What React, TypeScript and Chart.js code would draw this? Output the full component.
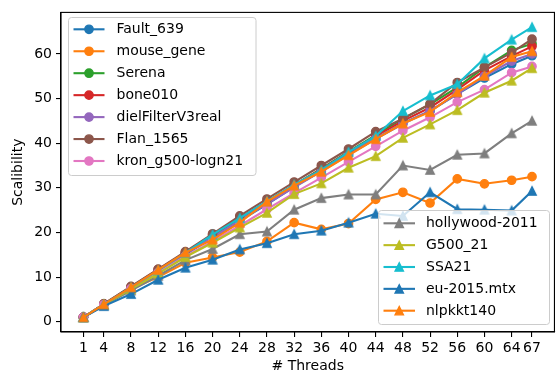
import React, { useEffect, useRef } from 'react';
import { Chart, registerables } from 'chart.js';

Chart.register(...registerables);

const threads = [1, 4, 8, 12, 16, 20, 24, 28, 32, 36, 40, 44, 48, 52, 56, 60, 64, 67];
const xTickValues = [1, 4, 8, 12, 16, 20, 24, 28, 32, 36, 40, 44, 48, 52, 56, 60, 64, 67];
const yTickValues = [0, 10, 20, 30, 40, 50, 60];

const fault639 = [1, 3.9, 7.6, 11.4, 15.1, 18.8, 22.6, 26.3, 30.2, 33.8, 37.6, 41.0, 44.5, 47.2, 51.0, 54.6, 57.7, 59.6];
const mouseGene = [1, 3.8, 7.3, 10.0, 13.2, 14.4, 15.6, 18.0, 22.2, 20.7, 22.0, 27.4, 29.0, 26.6, 32.0, 30.9, 31.7, 32.5];
const serena = [1, 3.9, 7.7, 11.5, 15.3, 19.2, 23.0, 26.8, 30.6, 34.3, 38.1, 41.8, 45.5, 48.7, 52.5, 57.0, 60.8, 62.3];
const bone010 = [1, 4.0, 7.8, 11.7, 15.5, 19.5, 23.2, 26.9, 30.6, 34.2, 38.0, 41.6, 45.0, 48.0, 52.0, 56.3, 59.5, 61.7];
const dielFilter = [1, 3.9, 7.6, 11.4, 15.2, 18.9, 22.7, 26.4, 30.1, 33.7, 37.4, 41.0, 44.3, 47.3, 51.0, 55.0, 58.4, 60.0];
const flan1565 = [1, 4.0, 7.9, 11.8, 15.7, 19.7, 23.7, 27.5, 31.3, 35.0, 38.7, 42.6, 45.5, 48.8, 53.6, 57.0, 60.3, 63.3];
const kron = [1, 3.8, 7.4, 11.0, 14.7, 18.0, 21.5, 25.2, 28.8, 32.3, 35.8, 39.3, 42.8, 45.8, 49.2, 52.0, 55.8, 57.2];
const hollywood = [1, 3.7, 7.0, 10.3, 13.8, 16.3, 19.6, 20.2, 25.1, 27.7, 28.5, 28.5, 35.0, 34.0, 37.4, 37.7, 42.2, 45.0];
const g500 = [1, 3.8, 7.3, 10.8, 14.5, 17.7, 21.1, 24.4, 28.6, 31.0, 34.5, 37.1, 41.2, 44.2, 47.4, 51.3, 54.0, 56.8];
const ssa21 = [1, 3.9, 7.7, 11.5, 15.4, 19.5, 23.2, 27.0, 30.7, 34.0, 38.0, 41.6, 47.2, 50.7, 53.2, 59.0, 63.2, 66.0];
const eu2015 = [1, 3.5, 6.2, 9.4, 12.1, 13.9, 16.2, 17.6, 19.6, 20.4, 22.2, 24.2, 23.7, 29.0, 25.2, 25.1, 24.9, 29.3];
const nlpkkt140 = [1, 3.9, 7.7, 11.6, 15.5, 18.4, 22.2, 26.9, 30.5, 33.6, 37.3, 40.9, 44.4, 47.0, 51.4, 55.1, 59.3, 60.6];

const seriesNames = [
  'Fault_639', 'mouse_gene', 'Serena', 'bone010', 'dielFilterV3real', 'Flan_1565', 'kron_g500-logn21',
  'hollywood-2011', 'G500_21', 'SSA21', 'eu-2015.mtx', 'nlpkkt140',
];
const seriesValues = [fault639, mouseGene, serena, bone010, dielFilter, flan1565, kron, hollywood, g500, ssa21, eu2015, nlpkkt140];
const seriesColors = [
  '#1f77b4', '#ff7f0e', '#2ca02c', '#d62728', '#9467bd', '#8c564b', '#e377c2',
  '#7f7f7f', '#bcbd22', '#17becf', '#1f77b4', '#ff7f0e',
];
const seriesMarkers = ['circle', 'circle', 'circle', 'circle', 'circle', 'circle', 'circle', 'tri', 'tri', 'tri', 'tri', 'tri'];

const FONT = '"DejaVu Sans", sans-serif';
const LW = 2.1;
const MS = 4.15;
const MEW = 1.4;

function drawMarker(ctx: CanvasRenderingContext2D, kind: string, x: number, y: number, color: string) {
  ctx.save();
  ctx.fillStyle = color;
  ctx.strokeStyle = color;
  ctx.lineWidth = MEW;
  ctx.lineJoin = 'miter';
  ctx.beginPath();
  if (kind === 'tri') {
    ctx.moveTo(x, y - MS);
    ctx.lineTo(x - MS, y + MS);
    ctx.lineTo(x + MS, y + MS);
    ctx.closePath();
  } else {
    ctx.arc(x, y, MS, 0, Math.PI * 2);
  }
  ctx.fill();
  ctx.stroke();
  ctx.restore();
}

function markerImage(kind: string, color: string) {
  const c = document.createElement('canvas');
  c.width = 18;
  c.height = 18;
  const ctx = c.getContext('2d')!;
  drawMarker(ctx, kind, 9, 9, color);
  return c;
}

function drawLegend(ctx: CanvasRenderingContext2D, box: number[], lineX: number[], textX: number, rowY0: number, rowStep: number, idx: number[]) {
  const [x0, y0, x1, y1] = box;
  ctx.save();
  const r = 3;
  ctx.beginPath();
  ctx.moveTo(x0 + r, y0);
  ctx.lineTo(x1 - r, y0);
  ctx.arcTo(x1, y0, x1, y0 + r, r);
  ctx.lineTo(x1, y1 - r);
  ctx.arcTo(x1, y1, x1 - r, y1, r);
  ctx.lineTo(x0 + r, y1);
  ctx.arcTo(x0, y1, x0, y1 - r, r);
  ctx.lineTo(x0, y0 + r);
  ctx.arcTo(x0, y0, x0 + r, y0, r);
  ctx.closePath();
  ctx.fillStyle = 'rgba(255,255,255,0.8)';
  ctx.fill();
  ctx.strokeStyle = '#cccccc';
  ctx.lineWidth = 1;
  ctx.stroke();
  ctx.font = '14px ' + FONT;
  ctx.textBaseline = 'middle';
  ctx.textAlign = 'left';
  idx.forEach((si, k) => {
    const y = rowY0 + k * rowStep;
    ctx.strokeStyle = seriesColors[si];
    ctx.lineWidth = LW;
    ctx.beginPath();
    ctx.moveTo(lineX[0], y);
    ctx.lineTo(lineX[1], y);
    ctx.stroke();
    drawMarker(ctx, seriesMarkers[si], (lineX[0] + lineX[1]) / 2, y, seriesColors[si]);
    ctx.fillStyle = '#000';
    ctx.fillText(seriesNames[si], textX, y + 0.5);
  });
  ctx.restore();
}

const overlayPlugin = {
  id: 'overlay',
  afterDraw(chart: any) {
    const ctx = chart.ctx as CanvasRenderingContext2D;
    const a = chart.chartArea;
    ctx.save();
    ctx.strokeStyle = '#000';
    ctx.lineWidth = 1.1;
    ctx.strokeRect(a.left, a.top, a.right - a.left, a.bottom - a.top);
    ctx.fillStyle = '#000';
    ctx.font = '14px ' + FONT;
    ctx.textAlign = 'center';
    ctx.textBaseline = 'middle';
    ctx.fillText('# Threads', (a.left + a.right) / 2, 366);
    ctx.translate(18, (a.top + a.bottom) / 2);
    ctx.rotate(-Math.PI / 2);
    ctx.fillText('Scalibility', 0, 0);
    ctx.restore();
    drawLegend(ctx, [68.5, 17.5, 256, 175.5], [73.5, 104.5], 116.5, 29.3, 21.95, [0, 1, 2, 3, 4, 5, 6]);
    drawLegend(ctx, [378.5, 210.5, 549.5, 324.5], [383.5, 415], 426, 223.3, 21.85, [7, 8, 9, 10, 11]);
  },
};

export default function App() {
  const ref = useRef<HTMLCanvasElement | null>(null);
  useEffect(() => {
    if (!ref.current) return;
    const n = seriesNames.length;
    const datasets = seriesNames.map((name, i) => {
      const isTri = seriesMarkers[i] === 'tri';
      return {
        label: name,
        data: threads.map((t, j) => ({ x: t, y: seriesValues[i][j] })),
        borderColor: seriesColors[i],
        backgroundColor: seriesColors[i],
        borderWidth: LW,
        pointBackgroundColor: seriesColors[i],
        pointBorderColor: seriesColors[i],
        pointBorderWidth: MEW,
        pointRadius: MS,
        pointStyle: isTri ? markerImage('tri', seriesColors[i]) : 'circle',
        tension: 0,
        order: n - i,
        clip: 0,
      };
    });
    const chart = new Chart(ref.current, {
      type: 'line',
      data: { datasets: datasets as any },
      plugins: [overlayPlugin],
      options: {
        animation: false,
        responsive: true,
        maintainAspectRatio: false,
        devicePixelRatio: 1,
        layout: { padding: { left: 0, top: 10, right: 3, bottom: 0 } },
        plugins: { legend: { display: false }, tooltip: { enabled: false } },
        scales: {
          x: {
            type: 'linear',
            min: -2.3,
            max: 70.3,
            afterBuildTicks: (axis: any) => {
              axis.ticks = xTickValues.map((v) => ({ value: v }));
            },
            afterFit: (axis: any) => {
              axis.height = 43;
            },
            ticks: {
              autoSkip: false,
              maxRotation: 0,
              minRotation: 0,
              color: '#000',
              font: { family: FONT, size: 14 },
              padding: 3,
              callback: (v: any) => String(v),
            },
            grid: { drawOnChartArea: false, drawTicks: true, tickLength: 5, color: '#000', lineWidth: 1.1 },
            border: { display: true, color: '#000', width: 1.1 },
          },
          y: {
            type: 'linear',
            min: -2.3,
            max: 69.3,
            afterBuildTicks: (axis: any) => {
              axis.ticks = yTickValues.map((v) => ({ value: v }));
            },
            afterFit: (axis: any) => {
              axis.width = 61;
            },
            ticks: {
              color: '#000',
              font: { family: FONT, size: 14 },
              padding: 4,
              callback: (v: any) => String(v),
            },
            grid: { drawOnChartArea: false, drawTicks: true, tickLength: 5, color: '#000', lineWidth: 1.1 },
            border: { display: true, color: '#000', width: 1.1 },
          },
        },
      } as any,
    });
    return () => chart.destroy();
  }, []);
  return (
    <div style={{ position: 'fixed', left: 0, top: 0, width: 560, height: 375, background: '#fff' }}>
      <canvas ref={ref} />
    </div>
  );
}
